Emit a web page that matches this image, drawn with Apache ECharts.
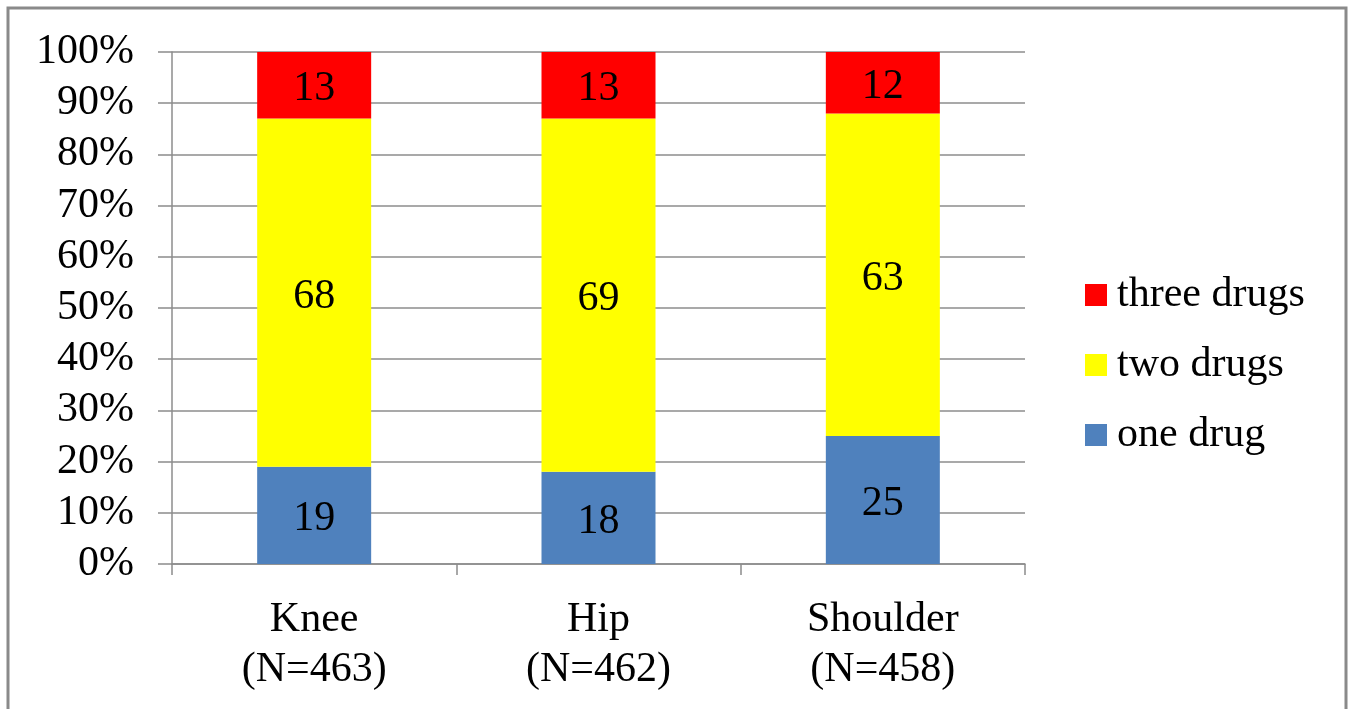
<!DOCTYPE html>
<html>
<head>
<meta charset="utf-8">
<script src="https://cdn.jsdelivr.net/npm/echarts@6/dist/echarts.min.js"></script>
<style>
  html, body { margin: 0; padding: 0; background: #fff; }
  #chart { width: 1353px; height: 709px; }
</style>
</head>
<body>
<div id="chart"></div>
<script>
// Share of patients by number of drugs, per joint
const categories = ['Knee\n(N=463)', 'Hip\n(N=462)', 'Shoulder\n(N=458)'];
const oneDrug = [19, 18, 25];
const twoDrugs = [68, 69, 63];
const threeDrugs = [13, 13, 12];
const seriesNames = ['one drug', 'two drugs', 'three drugs'];
const legendOrder = ['three drugs', 'two drugs', 'one drug'];

const FONT = '"Liberation Serif", "Times New Roman", serif';
const FONT_SIZE = 42;
const AXIS_GRAY = '#8c8c8c';

const chart = echarts.init(document.getElementById('chart'), null, { renderer: 'canvas' });

function barSeries(name, data, color) {
  return {
    name: name,
    type: 'bar',
    stack: 'total',
    barWidth: 114,
    data: data,
    itemStyle: { color: color },
    label: {
      show: true,
      position: 'inside',
      offset: [0, 4],
      color: '#000',
      fontFamily: FONT,
      fontSize: FONT_SIZE
    },
    emphasis: { disabled: true }
  };
}

chart.setOption({
  animation: false,
  backgroundColor: '#fff',
  graphic: [{
    type: 'rect',
    shape: { x: 8, y: 8, width: 1338, height: 740 },
    style: { fill: 'none', stroke: '#8a8a8a', lineWidth: 3 },
    silent: true
  }],
  grid: { left: 172, right: 328, top: 52, bottom: 145 },
  legend: {
    orient: 'vertical',
    left: 1085,
    top: 274,
    padding: 0,
    itemGap: 28,
    itemWidth: 22,
    itemHeight: 22,
    icon: 'rect',
    data: legendOrder,
    textStyle: {
      fontFamily: FONT,
      fontSize: FONT_SIZE,
      lineHeight: 42,
      color: '#000',
      padding: [0, 0, 0, 5]
    }
  },
  xAxis: {
    type: 'category',
    data: categories,
    axisLine: { lineStyle: { color: AXIS_GRAY, width: 1.5 } },
    axisTick: { show: true, length: 11, lineStyle: { color: AXIS_GRAY, width: 1.5 } },
    axisLabel: {
      color: '#000',
      fontFamily: FONT,
      fontSize: FONT_SIZE,
      lineHeight: 50,
      margin: 31
    }
  },
  yAxis: {
    type: 'value',
    min: 0,
    max: 100,
    interval: 10,
    axisLine: { show: true, lineStyle: { color: AXIS_GRAY, width: 1.5 } },
    axisTick: { show: true, length: 14, lineStyle: { color: AXIS_GRAY, width: 1.5 } },
    splitLine: { show: true, lineStyle: { color: AXIS_GRAY, width: 1.5 } },
    axisLabel: {
      formatter: '{value}%',
      color: '#000',
      fontFamily: FONT,
      fontSize: FONT_SIZE,
      padding: [4, 0, 0, 0],
      margin: 38
    }
  },
  series: [
    barSeries(seriesNames[0], oneDrug, '#4F81BD'),
    barSeries(seriesNames[1], twoDrugs, '#FFFF00'),
    barSeries(seriesNames[2], threeDrugs, '#FF0000')
  ]
});
</script>
</body>
</html>
